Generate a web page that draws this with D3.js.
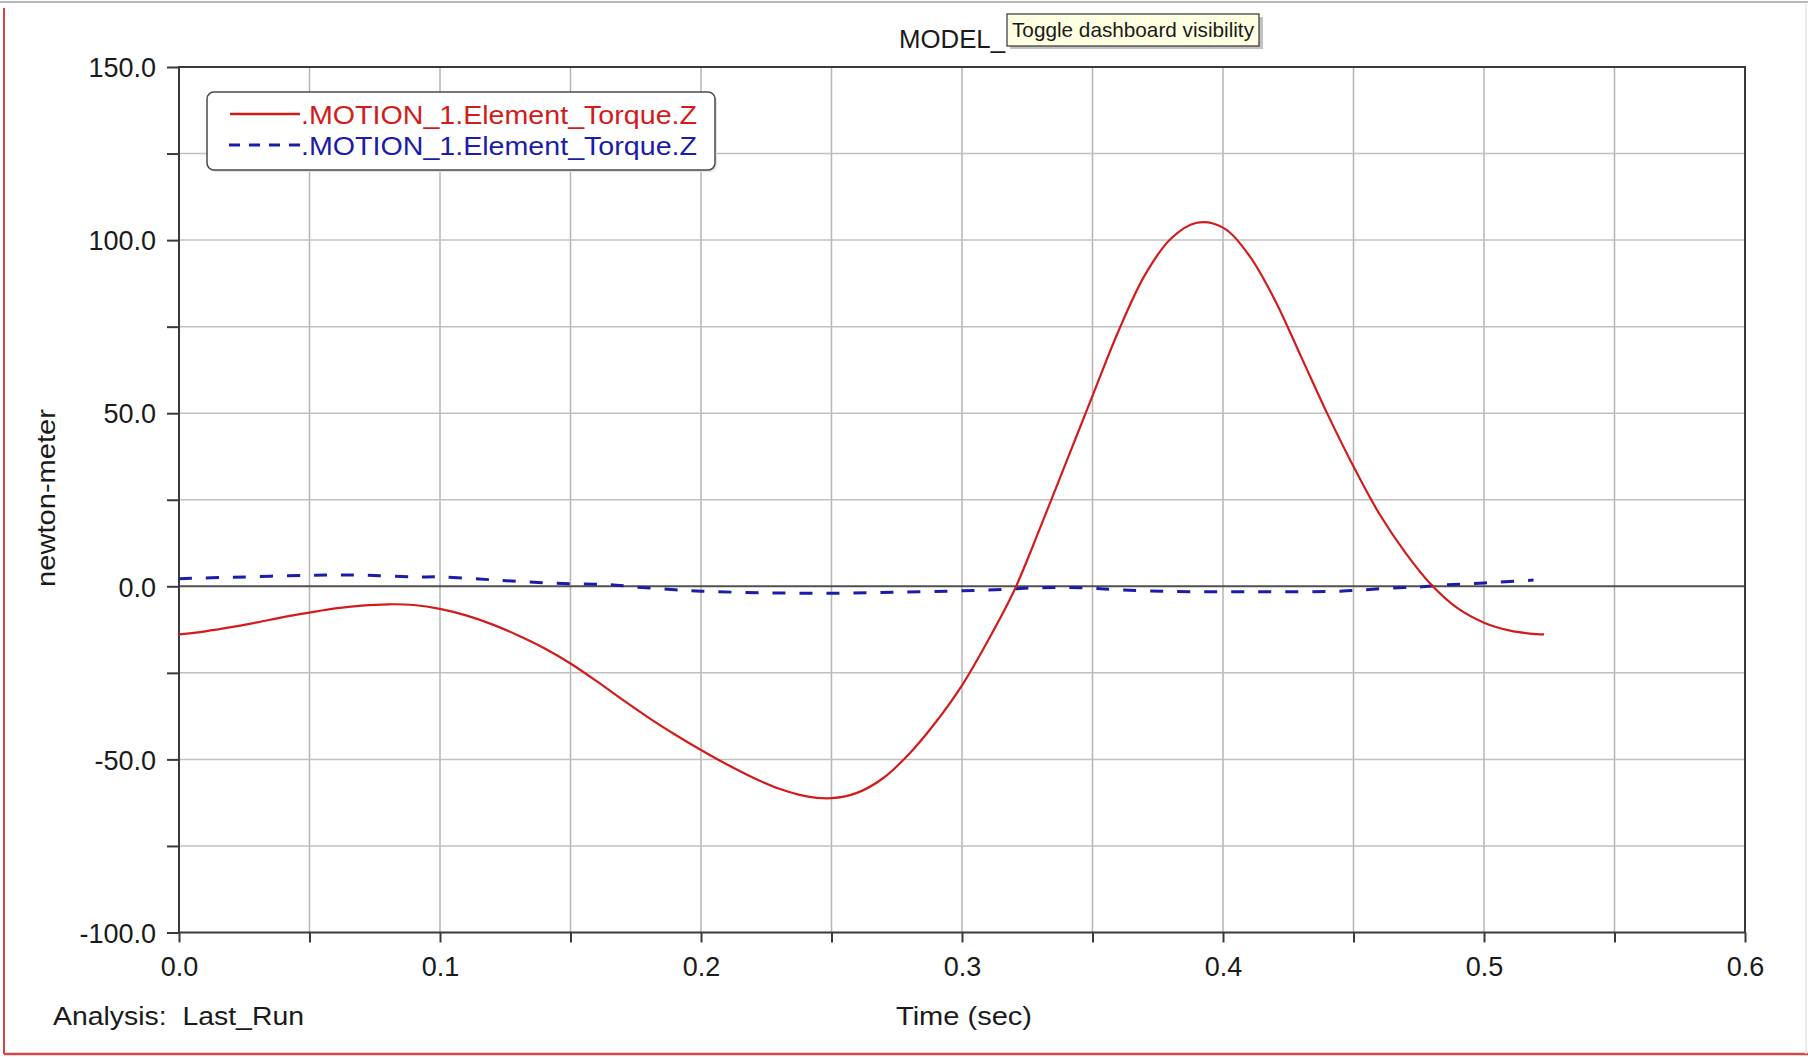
<!DOCTYPE html>
<html>
<head>
<meta charset="utf-8">
<script src="https://cdn.jsdelivr.net/npm/d3@7"></script>
<style>
  html, body { margin: 0; padding: 0; background: #ffffff; }
  svg { display: block; }
  text { font-family: "Liberation Sans", Arial, sans-serif; fill: #1a1a1a; }
</style>
</head>
<body>
<svg id="chart" width="1808" height="1057"></svg>
<script>
// ---- data ----
const redTime = [0, 0.01, 0.02, 0.03, 0.04, 0.05, 0.06, 0.07, 0.08, 0.09, 0.1, 0.11, 0.12, 0.13, 0.14,
  0.15, 0.16, 0.17, 0.18, 0.19, 0.2, 0.21, 0.22, 0.23, 0.24, 0.25, 0.26, 0.27, 0.28, 0.29, 0.3,
  0.31, 0.32, 0.33, 0.34, 0.35, 0.36, 0.37, 0.38, 0.39, 0.4, 0.41, 0.42, 0.43, 0.44, 0.45, 0.46,
  0.47, 0.48, 0.49, 0.5, 0.51, 0.52, 0.523];
const redTorque = [-13.9, -13.0, -11.8, -10.4, -8.9, -7.6, -6.4, -5.6, -5.2, -5.4, -6.5, -8.4, -11.0, -14.2, -17.9,
  -22.3, -27.4, -32.8, -38.0, -42.8, -47.3, -51.5, -55.3, -58.5, -60.6, -61.2, -59.6, -55.3, -48.2, -39.2, -28.6,
  -15.6, -1.2, 17.0, 36.0, 55.0, 73.8, 89.8, 100.4, 105.0, 103.6, 95.6, 82.5, 66.2, 49.8, 34.6, 20.8,
  9.6, 0.3, -6.4, -10.5, -12.8, -13.8, -13.9];

const blueTime = [0, 0.02, 0.05, 0.07, 0.09, 0.1, 0.115, 0.13, 0.15, 0.165, 0.175, 0.19, 0.2, 0.225, 0.25,
  0.275, 0.3, 0.315, 0.33, 0.345, 0.36, 0.38, 0.41, 0.445, 0.454, 0.465, 0.475, 0.485, 0.496, 0.506, 0.519];
const blueTorque = [2.2, 2.6, 3.2, 3.2, 2.7, 2.7, 2.1, 1.4, 0.7, 0.5, -0.2, -1.0, -1.4, -1.9, -2.0,
  -1.7, -1.3, -0.9, -0.4, -0.4, -1.0, -1.5, -1.6, -1.4, -1.0, -0.5, -0.2, 0.4, 0.8, 1.2, 1.8];

const seriesNames = [".MOTION_1.Element_Torque.Z", ".MOTION_1.Element_Torque.Z"];
const xTickValues = [0, 0.05, 0.1, 0.15, 0.2, 0.25, 0.3, 0.35, 0.4, 0.45, 0.5, 0.55, 0.6];
const xTickLabels = [0, 0.1, 0.2, 0.3, 0.4, 0.5, 0.6];
const yTickValues = [-100, -75, -50, -25, 0, 25, 50, 75, 100, 125, 150];
const yTickLabels = [-100, -50, 0, 50, 100, 150];
const titleText = "MODEL_";
const tooltipText = "Toggle dashboard visibility";
const xLabel = "Time (sec)";
const yLabel = "newton-meter";
const analysisText = "Analysis:  Last_Run";

// ---- drawing ----
const svg = d3.select("#chart");
const W = 1808, H = 1057;
const L = 179, R = 1745, T = 67, B = 932.5;

svg.append("rect").attr("width", W).attr("height", H).attr("fill", "#ffffff");

// window frame
svg.append("line").attr("x1", 0).attr("x2", W).attr("y1", 2).attr("y2", 2)
  .attr("stroke", "#b8b8b8").attr("stroke-width", 2);
svg.append("line").attr("x1", 4).attr("x2", 4).attr("y1", 8).attr("y2", 1054)
  .attr("stroke", "#d24848").attr("stroke-width", 2);
svg.append("line").attr("x1", 4).attr("x2", W).attr("y1", 1054).attr("y2", 1054)
  .attr("stroke", "#d24848").attr("stroke-width", 2.5);
svg.append("line").attr("x1", 1806).attr("x2", 1806).attr("y1", 4).attr("y2", 1054)
  .attr("stroke", "#e6e6e6").attr("stroke-width", 1.5);

const x = d3.scaleLinear().domain([0, 0.6]).range([L, R]);
const y = d3.scaleLinear().domain([-100, 150]).range([B, T]);

// grid
const grid = svg.append("g");
grid.selectAll("line.v").data(xTickValues.filter(d => d > 0 && d < 0.6)).join("line")
  .attr("x1", d => x(d)).attr("x2", d => x(d)).attr("y1", T).attr("y2", B)
  .attr("stroke", "#b4b4b4").attr("stroke-width", 1.5);
grid.selectAll("line.h").data(yTickValues.filter(d => d > -100 && d < 150 && d !== 0)).join("line")
  .attr("x1", L).attr("x2", R).attr("y1", d => y(d)).attr("y2", d => y(d))
  .attr("stroke", "#c0c0c0").attr("stroke-width", 1.5);

// zero line
svg.append("line").attr("x1", L).attr("x2", R).attr("y1", y(0)).attr("y2", y(0))
  .attr("stroke", "#505050").attr("stroke-width", 2);

// plot frame
svg.append("rect").attr("x", L).attr("y", T).attr("width", R - L).attr("height", B - T)
  .attr("fill", "none").attr("stroke", "#3a3a3a").attr("stroke-width", 2);

// axes
const fmt = d => d.toFixed(1);
const yAxis = d3.axisLeft(y).tickValues(yTickValues).tickSize(12).tickPadding(11)
  .tickFormat(d => yTickLabels.includes(d) ? fmt(d) : "");
const gy = svg.append("g").attr("transform", `translate(${L},0)`).call(yAxis);
const xAxis = d3.axisBottom(x).tickValues(xTickValues).tickSize(10).tickPadding(14)
  .tickFormat(d => xTickLabels.some(v => Math.abs(v - d) < 1e-9) ? fmt(d) : "");
const gx = svg.append("g").attr("transform", `translate(0,${B})`).call(xAxis);
[gx, gy].forEach(g => {
  g.select(".domain").remove();
  g.selectAll(".tick line").attr("stroke", "#3a3a3a").attr("stroke-width", 2);
  g.selectAll(".tick text").attr("font-size", 27).attr("fill", "#1a1a1a")
    .attr("font-family", '"Liberation Sans", Arial, sans-serif');
});
gy.selectAll(".tick text").attr("dy", "0.36em");

// series
const line = d3.line().x(d => x(d[0])).y(d => y(d[1])).curve(d3.curveCatmullRom.alpha(0.5));
const redData = redTime.map((t, i) => [t, redTorque[i]]);
const blueData = blueTime.map((t, i) => [t, blueTorque[i]]);
svg.append("path").datum(blueData).attr("d", line).attr("fill", "none")
  .attr("stroke", "#1c1caa").attr("stroke-width", 3).attr("stroke-dasharray", "13,14");
svg.append("path").datum(redData).attr("d", line).attr("fill", "none")
  .attr("stroke", "#d21c1c").attr("stroke-width", 2.2);

// legend
const lg = svg.append("g");
lg.append("rect").attr("x", 209).attr("y", 94).attr("width", 508).attr("height", 78).attr("rx", 7)
  .attr("fill", "#e2e2e2");
lg.append("rect").attr("x", 207).attr("y", 92).attr("width", 508).attr("height", 78).attr("rx", 7)
  .attr("fill", "#ffffff").attr("stroke", "#4a4a4a").attr("stroke-width", 1.5);
lg.append("line").attr("x1", 230).attr("x2", 300).attr("y1", 114).attr("y2", 114)
  .attr("stroke", "#d21c1c").attr("stroke-width", 2.5);
lg.append("line").attr("x1", 229).attr("x2", 300).attr("y1", 145).attr("y2", 145)
  .attr("stroke", "#1c1caa").attr("stroke-width", 3).attr("stroke-dasharray", "11,9");
lg.append("text").attr("x", 301).attr("y", 124).attr("font-size", 26)
  .attr("textLength", 396).attr("lengthAdjust", "spacingAndGlyphs")
  .style("fill", "#d21c1c").text(seriesNames[0]);
lg.append("text").attr("x", 301).attr("y", 155).attr("font-size", 26)
  .attr("textLength", 396).attr("lengthAdjust", "spacingAndGlyphs")
  .style("fill", "#1c1caa").text(seriesNames[1]);

// title + tooltip
svg.append("text").attr("x", 899).attr("y", 48).attr("font-size", 26)
  .attr("textLength", 106).attr("lengthAdjust", "spacingAndGlyphs").text(titleText);
svg.append("rect").attr("x", 1010).attr("y", 17).attr("width", 253).attr("height", 32).attr("fill", "#9a9a9a").attr("opacity", 0.6);
svg.append("rect").attr("x", 1007).attr("y", 14).attr("width", 252).attr("height", 32)
  .attr("fill", "#ffffe1").attr("stroke", "#333333").attr("stroke-width", 1.2);
svg.append("text").attr("x", 1012).attr("y", 37).attr("font-size", 21)
  .attr("textLength", 242).attr("lengthAdjust", "spacingAndGlyphs").text(tooltipText);

// axis titles
svg.append("text").attr("x", 964).attr("y", 1025).attr("font-size", 26).attr("text-anchor", "middle")
  .attr("textLength", 136).attr("lengthAdjust", "spacingAndGlyphs").text(xLabel);
svg.append("text").attr("transform", "translate(55,498) rotate(-90)").attr("font-size", 26)
  .attr("text-anchor", "middle").attr("textLength", 178).attr("lengthAdjust", "spacingAndGlyphs").text(yLabel);
svg.append("text").attr("x", 53).attr("y", 1025).attr("font-size", 26).style("white-space", "pre")
  .attr("xml:space", "preserve")
  .attr("textLength", 251).attr("lengthAdjust", "spacingAndGlyphs").text(analysisText);
</script>
</body>
</html>
